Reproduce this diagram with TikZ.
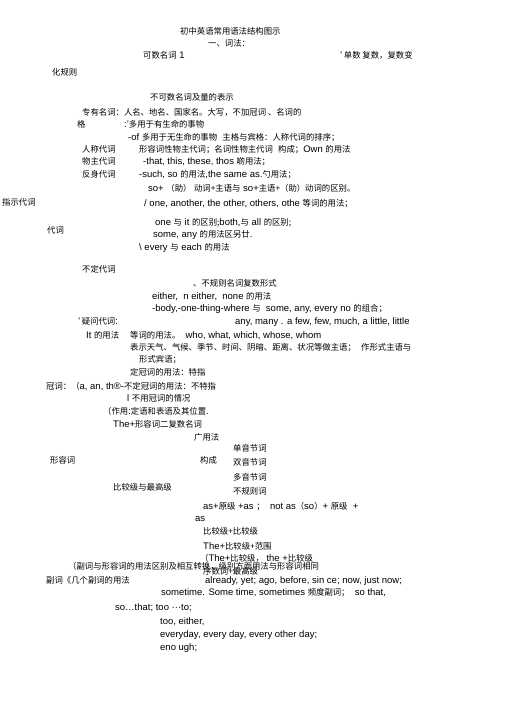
\documentclass[tikz,border=0pt]{standalone}
\usepackage{fontspec}
\setmainfont{Liberation Sans}
\newfontfamily\cjk{Noto Sans CJK SC}[Scale=0.88]
\newcommand{\zh}[1]{{\cjk #1}}

\begin{document}
\begin{tikzpicture}[x=1pt, y=-1pt,
		 gram/.style={anchor=west, inner sep=0pt, text height=6.5pt, text depth=0pt, font=\fontsize{9.5}{11}\selectfont} ]
		\useasboundingbox (0,0) rectangle (505,715);
		% title
		\node[gram] (title) at (180,31) {\zh{初中英语常用语法结构图示}};
		\node[gram] (cifa) at (208,43) {\zh{一、词法：}};
		% nouns
		\node[gram] (kshu) at (143,55) {\zh{可数名词} 1};
		\node[gram] (danfu) at (340,55) {'\,\zh{单数 复数，复数变}};
		\node[gram] (guize) at (52,72) {\zh{化规则}};
		\node[gram] (bkshu) at (150,97) {\zh{不可数名词及量的表示}};
		\node[gram] (zhuan) at (82,112) {\zh{专有名词：人名、地名、国家名。大写，不加冠词 、名词的}};
		\node[gram] (ge) at (77,124) {\zh{格}};
		\node[gram] (youshe) at (124,124) {:'\zh{多用于有生命的事物}};
		\node[gram] (ofge) at (128,137) {-of \zh{多用于无生命的事物}\ \ \zh{主格与宾格：人称代词的排序；}};
		% pronouns
		\node[gram] (rencheng) at (82,149) {\zh{人称代词}};
		\node[gram] (xingwu) at (139,149) {\zh{形容词性物主代词；名词性物主代词}\ \ \zh{构成；}Own \zh{的用法}};
		\node[gram] (wuzhu) at (82,161) {\zh{物主代词}};
		\node[gram] (that) at (143,161) {-that, this, these, thos \zh{啲用法；}};
		\node[gram] (fanshen) at (82,174) {\zh{反身代词}};
		\node[gram] (such) at (139,174) {-such, so \zh{的用法},the same as.\zh{勺用法；}};
		\node[gram] (soaux) at (148,188) {so+ \zh{（助）} \zh{动词+主语与} so+\zh{主语+（助）动词的区别。}};
		\node[gram] (zhishi) at (2,202) {\zh{指示代词}};
		\node[gram] (one) at (144,203) {/ one, another, the other, others, othe \zh{等词的用法；}};
		\node[gram] (oneit) at (155,222) {one \zh{与} it \zh{的区别;}both,\zh{与} all \zh{的区别;}};
		\node[gram] (daici) at (47,230) {\zh{代词}};
		\node[gram] (some) at (153,234) {some, any \zh{的用法区另廿}.};
		\node[gram] (every) at (139,247) {\textbackslash\ every \zh{与} each \zh{的用法}};
		\node[gram] (buding) at (82,269) {\zh{不定代词}};
		\node[gram] (buguize) at (193,283) {\zh{、不规则名词复数形式}};
		\node[gram] (either) at (152,296) {either,~ n either,~ none \zh{的用法}};
		\node[gram] (body) at (152,308) {-body,-one-thing-where \zh{与}~ some, any, every no \zh{的组合；}};
		\node[gram] (yiwen) at (78,321) {'\,\zh{疑问代词}:};
		\node[gram] (many) at (235,321) {any, many . a few, few, much, a little, little};
		\node[gram] (it) at (86,335) {It \zh{的用法}};
		\node[gram] (who) at (130,335) {\zh{等词的用法。}~ who, what, which, whose, whom};
		\node[gram] (tianqi) at (130,347) {\zh{表示天气、气候、季节、时间、阴暗、距离、状况等做主语；}~ \zh{作形式主语与}};
		\node[gram] (binyu) at (139,359) {\zh{形式宾语；}};
		% articles
		\node[gram] (ding) at (130,372) {\zh{定冠词的用法：特指}};
		\node[gram] (guanci) at (46,386) {\zh{冠词：（}a, an, th®-\zh{不定冠词的用法：不特指}};
		\node[gram] (buyong) at (127,398) {l \zh{不用冠词的情况}};
		% adjectives
		\node[gram] (zuoyong) at (103,411) {\zh{（作用}:\zh{定语和表语及其位置}.};
		\node[gram] (theadj) at (113,424) {The+\zh{形容词二复数名词}};
		\node[gram] (yongfa) at (194,437) {\zh{广用法}};
		\node[gram] (dan) at (233,448) {\zh{单音节词}};
		\node[gram] (xingrong) at (50,460) {\zh{形容词}};
		\node[gram] (goucheng) at (200,460) {\zh{构成}};
		\node[gram] (shuang) at (233,462) {\zh{双音节词}};
		\node[gram] (duo) at (233,477) {\zh{多音节词}};
		\node[gram] (bijiao) at (113,487) {\zh{比较级与最高级}};
		\node[gram] (buguizeci) at (233,491) {\zh{不规则词}};
		\node[gram] (asas) at (203,506) {as+\zh{原级} +as \zh{；}~ not as\zh{（}so\zh{）}+ \zh{原级}~ +};
		\node[gram] (as) at (195,518) {as};
		\node[gram] (bjbj) at (203,531) {\zh{比较级+比较级}};
		\node[gram] (fanwei) at (203,546) {The+\zh{比较级+范围}};
		\node[gram] (thethe) at (200,558) {\zh{（}The+\zh{比较级，} the +\zh{比较级}};
		% adverbs
		\node[gram] (qubie) at (68,566) {\zh{（副词与形容词的用法区别及相互转换，级别方面用法与形容词相同}};
		\node[gram] (xushu) at (203,571) {\zh{序数词+最高级}};
		\node[gram] (fuci) at (46,580) {\zh{副词《几个副词的用法}};
		\node[gram] (already) at (205,580) {already, yet; ago, before, sin ce; now, just now;};
		\node[gram] (sometime) at (161,592) {sometime. Some time, sometimes \zh{频度副词；}~ so that,};
		\node[gram] (sothat) at (115,607) {so…that; too ···to;};
		\node[gram] (too) at (160,621) {too, either,};
		\node[gram] (everyday) at (160,634) {everyday, every day, every other day;};
		\node[gram] (enough) at (160,647) {eno ugh;};
	\end{tikzpicture}
\end{document}
